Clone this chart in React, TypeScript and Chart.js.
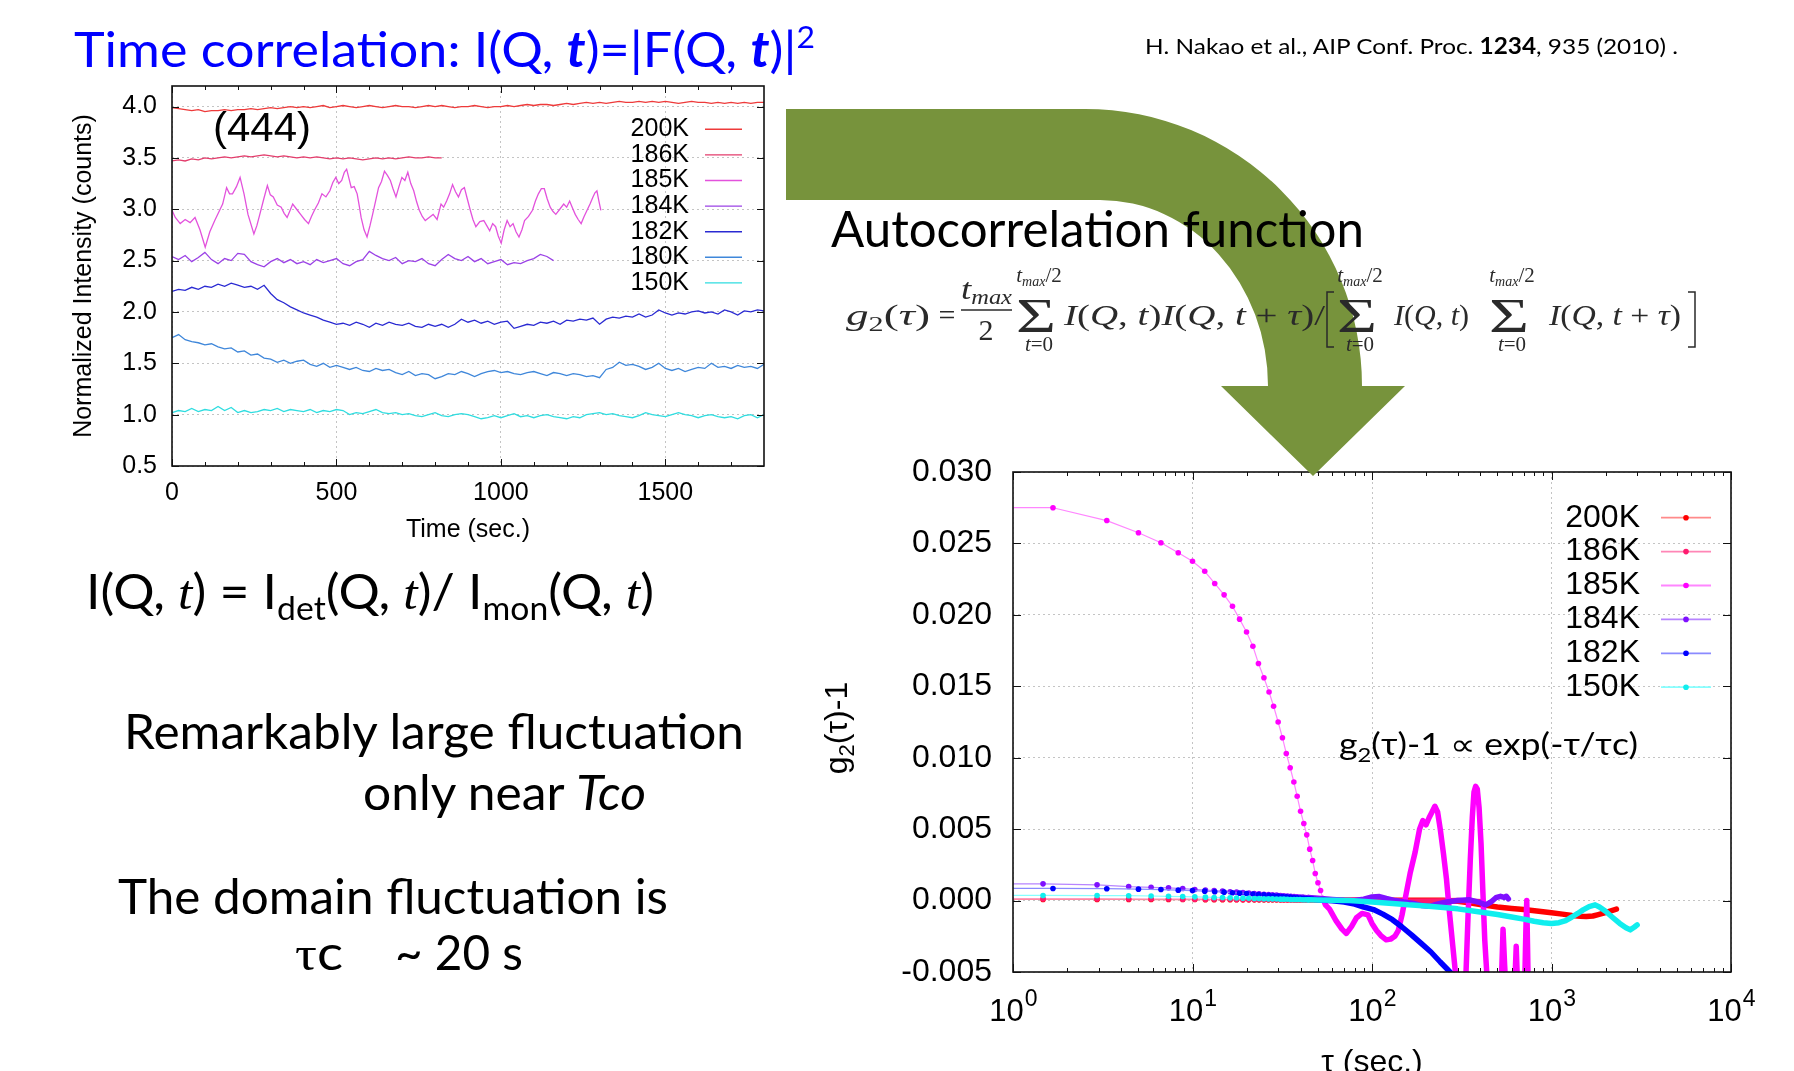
import React, { useEffect, useRef } from 'react';
import { Chart, registerables } from 'chart.js';
Chart.register(...registerables);

const SANS = '"Liberation Sans", Arial, sans-serif';
const SLIDE = 'Lato, "Open Sans", sans-serif';
const SERIF = '"Liberation Serif", "DejaVu Serif", serif';

// ---------------- Left chart: normalized intensity vs time ----------------
const T_STEP = 20; // sampling step of the regular series (s)
const LEFT_LABELS = ['200K', '186K', '185K', '184K', '182K', '180K', '150K'];
const LEFT_COLORS = ['#ee3a3a', '#e33d6c', '#e352dc', '#9b42e6', '#2a2ad2', '#3f87da', '#2fdde0'];
const LEFT_X_TICKS = [0, 500, 1000, 1500];
const LEFT_X_MINOR = [100, 200, 300, 400, 600, 700, 800, 900, 1100, 1200, 1300, 1400, 1600, 1700];
const LEFT_Y_TICKS = [0.5, 1.0, 1.5, 2.0, 2.5, 3.0, 3.5, 4.0];

const I_200K = [
  3.99, 3.98, 3.97, 3.96, 3.97, 3.95, 3.96, 3.96, 3.97, 3.96,
  3.97, 3.97, 3.98, 3.97, 3.98, 3.99, 3.98, 3.99, 4.00, 3.99,
  4.00, 3.99, 4.00, 4.01, 3.99, 4.00, 4.01, 4.00, 3.99, 4.00,
  4.01, 4.00, 3.99, 4.00, 4.01, 4.00, 4.00, 3.99, 4.00, 4.01,
  4.00, 4.01, 4.00, 3.99, 4.00, 4.00, 4.01, 4.00, 3.99, 4.00,
  4.00, 4.01, 4.00, 4.01, 4.02, 4.01, 4.02, 4.02, 4.01, 4.02,
  4.03, 4.02, 4.03, 4.04, 4.03, 4.04, 4.03, 4.04, 4.05, 4.04,
  4.04, 4.05, 4.04, 4.05, 4.04, 4.05, 4.04, 4.03, 4.04, 4.05,
  4.04, 4.04, 4.03, 4.04, 4.03, 4.04, 4.03, 4.04, 4.03, 4.04, 4.04,
];
const I_186K = [
  3.47, 3.48, 3.47, 3.49, 3.48, 3.50, 3.49, 3.50, 3.51, 3.50,
  3.51, 3.52, 3.51, 3.52, 3.53, 3.52, 3.51, 3.52, 3.51, 3.50,
  3.51, 3.50, 3.51, 3.50, 3.49, 3.50, 3.49, 3.50, 3.49, 3.48,
  3.49, 3.50, 3.49, 3.50, 3.49, 3.50, 3.51, 3.50, 3.50, 3.51, 3.50, 3.50,
];
// [time (s), intensity]
const I_185K = [
  [0, 2.99], [10, 2.92], [25, 2.86], [40, 2.90], [55, 2.87], [70, 2.92], [85, 2.80], [101, 2.63], [115, 2.78], [130, 2.89],
  [142, 2.97], [154, 3.05], [166, 3.21], [175, 3.15], [184, 3.15], [196, 3.22], [207, 3.31], [219, 3.15], [231, 2.95], [249, 2.76],
  [258, 2.84], [267, 2.95], [279, 3.10], [290, 3.23], [299, 3.14], [308, 3.12], [320, 3.04], [332, 3.02], [341, 2.96], [350, 2.92],
  [358, 2.98], [367, 3.05], [379, 3.00], [391, 2.95], [403, 2.90], [415, 2.86], [424, 2.93], [433, 2.99], [445, 3.06], [456, 3.15],
  [468, 3.12], [480, 3.18], [489, 3.26], [498, 3.31], [507, 3.25], [516, 3.28], [524, 3.36], [531, 3.39], [538, 3.30], [545, 3.21],
  [554, 3.22], [563, 3.15], [570, 3.02], [575, 2.92], [584, 2.80], [593, 2.73], [602, 2.84], [610, 2.95], [619, 3.08], [628, 3.21],
  [637, 3.27], [646, 3.37], [655, 3.33], [664, 3.28], [672, 3.20], [681, 3.12], [690, 3.22], [699, 3.31], [708, 3.28], [717, 3.36],
  [726, 3.25], [735, 3.18], [744, 3.07], [752, 2.99], [761, 2.93], [770, 2.89], [782, 2.92], [794, 2.95], [806, 2.90], [818, 3.05],
  [826, 3.02], [835, 3.08], [844, 3.15], [853, 3.24], [862, 3.17], [871, 3.12], [880, 3.19], [889, 3.21], [898, 3.10], [907, 2.99],
  [915, 2.90], [924, 2.83], [936, 2.88], [948, 2.89], [957, 2.84], [966, 2.79], [975, 2.86], [984, 2.83], [992, 2.74], [1001, 2.67],
  [1010, 2.80], [1019, 2.89], [1028, 2.83], [1037, 2.86], [1046, 2.78], [1055, 2.73], [1064, 2.80], [1072, 2.89], [1084, 2.93], [1096, 2.99],
  [1105, 3.08], [1114, 3.15], [1123, 3.20], [1132, 3.20], [1141, 3.10], [1150, 3.02], [1158, 2.98], [1167, 2.95], [1179, 3.00], [1191, 3.05],
  [1200, 3.02], [1209, 3.08], [1218, 3.01], [1226, 2.95], [1235, 2.90], [1244, 2.86], [1253, 2.93], [1262, 2.99], [1271, 3.05], [1280, 3.12],
  [1286, 3.16], [1292, 3.18], [1298, 3.08], [1304, 2.99],
];
const I_184K = [
  2.54, 2.51, 2.55, 2.49, 2.53, 2.58, 2.51, 2.47, 2.52, 2.50,
  2.57, 2.56, 2.49, 2.46, 2.44, 2.49, 2.52, 2.48, 2.51, 2.47,
  2.49, 2.46, 2.51, 2.48, 2.50, 2.52, 2.47, 2.45, 2.49, 2.51,
  2.59, 2.55, 2.52, 2.50, 2.53, 2.47, 2.50, 2.49, 2.52, 2.47,
  2.45, 2.51, 2.56, 2.52, 2.50, 2.54, 2.49, 2.52, 2.47, 2.49,
  2.51, 2.46, 2.48, 2.47, 2.50, 2.52, 2.56, 2.54, 2.50,
];
const I_182K = [
  2.20, 2.22, 2.21, 2.24, 2.22, 2.25, 2.24, 2.27, 2.25, 2.28,
  2.26, 2.24, 2.25, 2.22, 2.26, 2.18, 2.12, 2.09, 2.05, 2.02,
  1.99, 1.97, 1.95, 1.92, 1.90, 1.88, 1.89, 1.87, 1.90, 1.88,
  1.85, 1.89, 1.87, 1.90, 1.88, 1.87, 1.89, 1.86, 1.85, 1.88,
  1.86, 1.88, 1.85, 1.88, 1.93, 1.90, 1.92, 1.89, 1.91, 1.88,
  1.90, 1.91, 1.84, 1.86, 1.88, 1.87, 1.90, 1.89, 1.91, 1.88,
  1.92, 1.91, 1.93, 1.92, 1.94, 1.88, 1.93, 1.95, 1.94, 1.96,
  1.95, 1.98, 1.95, 1.97, 2.02, 1.99, 1.97, 1.99, 1.98, 2.00,
  2.01, 1.99, 2.00, 1.98, 2.02, 2.00, 1.97, 2.01, 2.00, 2.02, 2.01,
];
const I_180K = [
  1.75, 1.78, 1.73, 1.71, 1.70, 1.68, 1.69, 1.66, 1.64, 1.65,
  1.61, 1.62, 1.58, 1.59, 1.55, 1.54, 1.51, 1.53, 1.50, 1.52,
  1.53, 1.49, 1.47, 1.50, 1.46, 1.48, 1.46, 1.44, 1.46, 1.43,
  1.42, 1.45, 1.43, 1.44, 1.41, 1.39, 1.42, 1.38, 1.40, 1.39,
  1.35, 1.37, 1.40, 1.39, 1.42, 1.40, 1.37, 1.40, 1.42, 1.43,
  1.41, 1.42, 1.40, 1.39, 1.41, 1.42, 1.40, 1.38, 1.41, 1.40,
  1.38, 1.40, 1.39, 1.37, 1.38, 1.36, 1.44, 1.46, 1.51, 1.48,
  1.49, 1.47, 1.44, 1.46, 1.50, 1.45, 1.43, 1.45, 1.42, 1.44,
  1.46, 1.45, 1.50, 1.46, 1.47, 1.45, 1.48, 1.46, 1.47, 1.45, 1.49,
];
const I_150K = [
  1.02, 1.04, 1.03, 1.06, 1.03, 1.05, 1.04, 1.08, 1.04, 1.07,
  1.02, 1.04, 1.02, 1.03, 1.05, 1.04, 1.06, 1.03, 1.05, 1.04,
  1.03, 1.05, 1.02, 1.04, 1.03, 1.05, 1.04, 1.00, 1.02, 1.01,
  1.03, 1.05, 1.02, 1.01, 1.02, 1.00, 1.01, 0.99, 0.98, 1.00,
  1.02, 0.99, 0.98, 1.00, 1.01, 1.00, 0.98, 0.96, 0.97, 0.99,
  0.97, 0.99, 1.01, 0.98, 0.99, 0.97, 0.99, 1.00, 0.98, 0.97,
  0.96, 0.98, 0.97, 1.00, 1.01, 1.02, 1.00, 1.01, 0.99, 0.98,
  0.97, 0.99, 1.02, 1.00, 0.99, 0.98, 1.00, 1.02, 1.00, 0.99,
  0.97, 0.99, 1.00, 0.98, 0.97, 0.98, 0.96, 0.99, 1.00, 0.97, 1.00,
];

// ---------------- Right chart: g2(tau)-1 vs tau ----------------
const RIGHT_LABELS = ['200K', '186K', '185K', '184K', '182K', '150K'];
const RIGHT_COLORS = ['#ff0000', '#ff1a6e', '#ff00ff', '#7f10ff', '#0000ff', '#10eeee'];
const RIGHT_LINE_COLORS = ['#ff8a8a', '#ff86b6', '#ff86ff', '#b784ff', '#8a8aff', '#86ffff'];
const RIGHT_DENSE_FROM = [45, 45, 54, 45, 54, 45]; // tau beyond which the points merge into a band
const RIGHT_X_TICKS = [1, 10, 100, 1000, 10000];
const RIGHT_X_EXP = ['0', '1', '2', '3', '4'];
const RIGHT_X_MINOR = [2, 3, 4, 5, 6, 7, 8, 9, 20, 30, 40, 50, 60, 70, 80, 90, 200, 300, 400, 500, 600, 700, 800, 900, 2000, 3000, 4000, 5000, 6000, 7000, 8000, 9000];
const RIGHT_Y_TICKS = [-0.005, 0, 0.005, 0.01, 0.015, 0.02, 0.025, 0.03];

// [tau (s), g2-1]
const G_200K = [
  [1, 0.00008], [1.47, 0.00008], [2.94, 0.00008], [4.41, 0.00008], [5.88, 0.00007], [7.35, 0.00007], [8.82, 0.00007], [10.3, 0.00007],
  [11.8, 0.00006], [13.2, 0.00006], [14.7, 0.00006], [16.2, 0.00006], [17.6, 0.00006], [19.1, 0.00005], [20.6, 0.00005], [22.1, 0.00005],
  [23.5, 0.00005], [25.0, 0.00005], [26.5, 0.00005], [27.9, 0.00005], [29.4, 0.00004], [30.9, 0.00004], [32.3, 0.00004], [33.8, 0.00004],
  [35.3, 0.00004], [36.8, 0.00004], [38.2, 0.00004], [39.7, 0.00004], [41.2, 0.00004], [42.6, 0.00004], [44.1, 0.00004],
  [50, 0.00004], [70, 0.00003], [100, 0.00002], [150, 0.00002], [200, 0.00003], [250, 0.00002], [300, -0.00005], [350, -0.00015],
  [400, -0.00028], [450, -0.00037], [500, -0.00045], [600, -0.00055], [700, -0.00063], [850, -0.00075], [1000, -0.00085],
  [1150, -0.00095], [1300, -0.00105], [1450, -0.00110], [1560, -0.00112], [1700, -0.00108], [1800, -0.00100], [1950, -0.00088],
  [2100, -0.00075], [2300, -0.00060],
];
const G_186K = [
  [1, 0.00012], [1.47, 0.00012], [2.94, 0.00012], [4.41, 0.00011], [5.88, 0.00011], [7.35, 0.00011], [8.82, 0.00010], [10.3, 0.00010],
  [11.8, 0.00010], [13.2, 0.00009], [14.7, 0.00009], [16.2, 0.00009], [17.6, 0.00008], [19.1, 0.00008], [20.6, 0.00008], [22.1, 0.00008],
  [23.5, 0.00007], [25.0, 0.00007], [26.5, 0.00007], [27.9, 0.00007], [29.4, 0.00007], [30.9, 0.00006], [32.3, 0.00006], [33.8, 0.00006],
  [35.3, 0.00006], [36.8, 0.00006], [38.2, 0.00006], [39.7, 0.00006], [41.2, 0.00005], [42.6, 0.00005], [44.1, 0.00005],
  [50, 0.00005], [80, 0.00003], [120, 0.0], [170, -0.00005], [230, -0.00003], [300, 0.0], [360, -0.00005], [410, -0.00008],
];
const G_185K = [
  [1, 0.0275], [1.67, 0.0275], [3.33, 0.0266], [5.0, 0.02575], [6.67, 0.02505], [8.33, 0.02435], [10.0, 0.02375], [11.7, 0.02305],
  [13.3, 0.0222], [15.0, 0.0214], [16.7, 0.0206], [18.3, 0.0197], [20.0, 0.0188], [21.7, 0.0178], [23.3, 0.0166], [25.0, 0.0156],
  [26.7, 0.0146], [28.3, 0.0136], [30.0, 0.0125], [31.7, 0.0114], [33.3, 0.0103], [35.0, 0.0093], [36.7, 0.0083], [38.3, 0.0073],
  [40.0, 0.00625], [41.7, 0.0054], [43.3, 0.0046], [45.0, 0.0036], [46.7, 0.0028], [48.3, 0.0019], [50.0, 0.00125], [51.7, 0.0007],
  [53.3, 0.00014],
  [55, -0.0003], [58, -0.0006], [63, -0.0014], [68, -0.0020], [72, -0.0023], [77, -0.0018], [82, -0.0012], [88, -0.0009],
  [95, -0.0010], [100, -0.0016], [106, -0.0021], [112, -0.00245], [120, -0.00275], [127, -0.0027], [134, -0.0025], [140, -0.0021],
  [147, -0.0010], [154, 0.0003], [163, 0.0019], [174, 0.0034], [184, 0.0050], [192, 0.0056], [200, 0.0053], [208, 0.0058],
  [216, 0.0062], [224, 0.0066], [232, 0.0062], [240, 0.0050], [250, 0.0033], [260, 0.0015], [270, -0.0008], [282, -0.0032],
  [294, -0.0055], [308, -0.0075], [322, -0.0075], [333, -0.0055], [343, -0.0010], [353, 0.0029], [362, 0.0058], [370, 0.0076],
  [378, 0.0080], [386, 0.0078], [395, 0.0065], [405, 0.0040], [415, 0.0005], [425, -0.0028], [438, -0.0055], [452, -0.0075],
  [500, -0.0075], [525, -0.0060], [537, -0.0020], [548, -0.0045], [565, -0.0075], [610, -0.0075], [628, -0.0050], [636, -0.0032],
  [645, -0.0055], [665, -0.0075], [705, -0.0075], [720, -0.0020], [728, 0.0000], [735, -0.0030], [745, -0.0075],
];
const G_184K = [
  [1, 0.00117], [1.47, 0.00117], [2.94, 0.00110], [4.41, 0.00098], [5.88, 0.00093], [7.35, 0.00089], [8.82, 0.00084], [10.3, 0.00078],
  [11.8, 0.00074], [13.2, 0.00070], [14.7, 0.00066], [16.2, 0.00062], [17.6, 0.00059], [19.1, 0.00056], [20.6, 0.00053], [22.1, 0.00050],
  [23.5, 0.00047], [25.0, 0.00044], [26.5, 0.00042], [27.9, 0.00040], [29.4, 0.00038], [30.9, 0.00036], [32.3, 0.00034], [33.8, 0.00032],
  [35.3, 0.00030], [36.8, 0.00028], [38.2, 0.00027], [39.7, 0.00025], [41.2, 0.00024], [42.6, 0.00022], [44.1, 0.00021],
  [50, 0.00016], [60, 0.00008], [70, 0.00002], [80, 0.0], [90, 0.00010], [100, 0.00025], [110, 0.00028], [120, 0.00015],
  [135, 0.0], [150, -0.00010], [170, -0.00020], [190, -0.00035], [210, -0.00040], [230, -0.00025], [260, -0.00010], [300, 0.0],
  [350, 0.00005], [400, -0.00015], [430, -0.00030], [460, -0.00010], [490, 0.00020], [520, 0.00030], [545, 0.00022], [560, 0.00030],
  [575, 0.00012],
];
const G_182K = [
  [1, 0.00085], [1.67, 0.00085], [3.33, 0.00083], [5.0, 0.00080], [6.67, 0.00077], [8.33, 0.00073], [10.0, 0.00070], [11.7, 0.00066],
  [13.3, 0.00062], [15.0, 0.00059], [16.7, 0.00055], [18.3, 0.00052], [20.0, 0.00049], [21.7, 0.00046], [23.3, 0.00043], [25.0, 0.00040],
  [26.7, 0.00037], [28.3, 0.00034], [30.0, 0.00031], [31.7, 0.00029], [33.3, 0.00026], [35.0, 0.00024], [36.7, 0.00022], [38.3, 0.00020],
  [40.0, 0.00018], [41.7, 0.00016], [43.3, 0.00014], [45.0, 0.00012], [46.7, 0.00010], [48.3, 0.00008], [50.0, 0.00006], [51.7, 0.00004],
  [53.3, 0.00002],
  [60, -0.00002], [70, -0.00010], [80, -0.00025], [90, -0.00045], [102, -0.00063], [115, -0.00095], [130, -0.00134], [147, -0.00185],
  [166, -0.00240], [188, -0.00300], [213, -0.00360], [240, -0.00430], [272, -0.00500], [290, -0.00540],
];
const G_150K = [
  [1, 0.00036], [1.47, 0.00036], [2.94, 0.00035], [4.41, 0.00034], [5.88, 0.00032], [7.35, 0.00030], [8.82, 0.00028], [10.3, 0.00026],
  [11.8, 0.00024], [13.2, 0.00022], [14.7, 0.00021], [16.2, 0.00019], [17.6, 0.00018], [19.1, 0.00017], [20.6, 0.00016], [22.1, 0.00015],
  [23.5, 0.00014], [25.0, 0.00013], [26.5, 0.00012], [27.9, 0.00012], [29.4, 0.00011], [30.9, 0.00010], [32.3, 0.00010], [33.8, 0.00009],
  [35.3, 0.00008], [36.8, 0.00008], [38.2, 0.00007], [39.7, 0.00007], [41.2, 0.00006], [42.6, 0.00006], [44.1, 0.00005],
  [50, 0.00004], [60, 0.00002], [75, 0.0], [100, -0.00010], [130, -0.00020], [160, -0.00030], [200, -0.00038], [250, -0.00048],
  [300, -0.00058], [400, -0.00080], [500, -0.00098], [600, -0.00115], [700, -0.00130], [800, -0.00145], [900, -0.00155],
  [1000, -0.00160], [1100, -0.00155], [1200, -0.00140], [1300, -0.00115], [1400, -0.00090], [1500, -0.00065], [1620, -0.00042],
  [1750, -0.00030], [1850, -0.00045], [2000, -0.00075], [2200, -0.00120], [2400, -0.00160], [2600, -0.00190], [2750, -0.00205],
  [2900, -0.00185], [3000, -0.00170],
];
const RIGHT_DATA = [G_200K, G_186K, G_185K, G_184K, G_182K, G_150K];

// ---------------- helpers ----------------
function drawTicksAndFrame(chart: any, xMajor: number[], xMinor: number[], yMajor: number[], maj: number, min: number) {
  const { ctx, chartArea: a, scales } = chart;
  const xs = scales.x, ys = scales.y;
  ctx.save();
  ctx.strokeStyle = '#111';
  ctx.lineWidth = 1;
  ctx.beginPath();
  const vx = (v: number, len: number) => {
    const p = Math.round(xs.getPixelForValue(v)) + 0.5;
    ctx.moveTo(p, a.bottom); ctx.lineTo(p, a.bottom - len);
    ctx.moveTo(p, a.top); ctx.lineTo(p, a.top + len);
  };
  xMajor.forEach((v) => vx(v, maj));
  xMinor.forEach((v) => vx(v, min));
  yMajor.forEach((v) => {
    const p = Math.round(ys.getPixelForValue(v)) + 0.5;
    ctx.moveTo(a.left, p); ctx.lineTo(a.left + maj, p);
    ctx.moveTo(a.right, p); ctx.lineTo(a.right - maj, p);
  });
  ctx.stroke();
  ctx.lineWidth = 1.6;
  ctx.strokeRect(a.left, a.top, a.right - a.left, a.bottom - a.top);
  ctx.restore();
}

function fixY(width: number) {
  return (s: any) => {
    s.width = width;
    s.paddingTop = 0;
    s.paddingBottom = 0;
  };
}

function LeftChart() {
  const ref = useRef<HTMLCanvasElement>(null);
  useEffect(() => {
    const regular = [I_200K, I_186K, null, I_184K, I_182K, I_180K, I_150K];
    const datasets = LEFT_LABELS.map((lab, i) => {
      const series = regular[i];
      const data = series
        ? series.map((v, k) => ({ x: k * T_STEP, y: v }))
        : I_185K.map(([t, v]) => ({ x: t, y: v }));
      return {
        label: lab,
        data,
        borderColor: LEFT_COLORS[i],
        borderWidth: 1.3,
        pointRadius: 0,
        tension: 0,
        clip: 0,
      };
    });
    const plugin = {
      id: 'leftDecor',
      afterDraw(chart: any) {
        const { ctx, chartArea: a } = chart;
        drawTicksAndFrame(chart, LEFT_X_TICKS, LEFT_X_MINOR, LEFT_Y_TICKS, 7, 4);
        ctx.save();
        ctx.font = `25px ${SANS}`;
        ctx.textBaseline = 'middle';
        LEFT_LABELS.forEach((lab, i) => {
          const y = a.top + 43.3 + i * 25.6;
          ctx.fillStyle = '#000';
          ctx.textAlign = 'right';
          ctx.fillText(lab, a.right - 75, y);
          ctx.strokeStyle = LEFT_COLORS[i];
          ctx.lineWidth = 1.4;
          ctx.beginPath();
          ctx.moveTo(a.right - 59, y); ctx.lineTo(a.right - 22, y);
          ctx.stroke();
        });
        ctx.fillStyle = '#000';
        ctx.textAlign = 'center';
        ctx.fillText('Time (sec.)', (a.left + a.right) / 2, a.bottom + 64);
        ctx.translate(44, (a.top + a.bottom) / 2);
        ctx.rotate(-Math.PI / 2);
        ctx.fillText('Normalized Intensity (counts)', 0, 0);
        ctx.restore();
      },
    };
    const chart = new Chart(ref.current!, {
      type: 'line',
      data: { datasets: datasets as any },
      options: {
        animation: false,
        responsive: false,
        events: [],
        layout: { padding: { left: 0, top: 16, right: 36, bottom: 0 } },
        plugins: { legend: { display: false }, tooltip: { enabled: false } },
        scales: {
          x: {
            type: 'linear', min: 0, max: 1800,
            afterBuildTicks: (s: any) => { s.ticks = LEFT_X_TICKS.map((v) => ({ value: v })); },
            afterFit: (s: any) => { s.height = 94; },
            ticks: { font: { family: SANS, size: 25 }, color: '#000', padding: 12, maxRotation: 0, autoSkip: false, callback: (v: any) => String(v) },
            grid: { color: '#c4c4c4', drawTicks: false, lineWidth: 1 },
            border: { display: false, dash: [2, 3] },
          },
          y: {
            type: 'linear', min: 0.5, max: 4.2,
            afterBuildTicks: (s: any) => { s.ticks = LEFT_Y_TICKS.map((v) => ({ value: v })); },
            afterFit: fixY(132),
            ticks: { font: { family: SANS, size: 25 }, color: '#000', padding: 15, callback: (v: any) => Number(v).toFixed(1) },
            grid: { color: '#c4c4c4', drawTicks: false, lineWidth: 1 },
            border: { display: false, dash: [2, 3] },
          },
        },
      } as any,
      plugins: [plugin],
    });
    return () => chart.destroy();
  }, []);
  return <canvas ref={ref} width={760} height={490} style={{ position: 'absolute', left: 40, top: 70 }} />;
}

function RightChart() {
  const ref = useRef<HTMLCanvasElement>(null);
  useEffect(() => {
    const datasets = RIGHT_DATA.map((pts, i) => ({
      label: RIGHT_LABELS[i],
      data: pts.map(([x, y]) => ({ x, y })),
      order: RIGHT_DATA.length - i,
      borderColor: RIGHT_LINE_COLORS[i],
      borderWidth: 1.2,
      borderCapStyle: 'round',
      borderJoinStyle: 'round',
      pointRadius: (c: any) => (c.dataIndex === 0 || (c.raw && c.raw.x >= RIGHT_DENSE_FROM[i]) ? 0 : 2.8),
      pointBackgroundColor: RIGHT_COLORS[i],
      pointBorderWidth: 0,
      tension: 0,
      clip: 0,
      segment: {
        borderWidth: (c: any) => (c.p1.parsed.x >= RIGHT_DENSE_FROM[i] ? 5.5 : 1.2),
        borderColor: (c: any) => (c.p1.parsed.x >= RIGHT_DENSE_FROM[i] ? RIGHT_COLORS[i] : RIGHT_LINE_COLORS[i]),
      },
    }));
    const plugin = {
      id: 'rightDecor',
      afterDraw(chart: any) {
        const { ctx, chartArea: a, scales } = chart;
        drawTicksAndFrame(chart, RIGHT_X_TICKS, RIGHT_X_MINOR, RIGHT_Y_TICKS, 8, 4);
        ctx.save();
        // x tick labels 10^n
        ctx.fillStyle = '#000';
        ctx.textBaseline = 'alphabetic';
        ctx.textAlign = 'left';
        RIGHT_X_TICKS.forEach((v, i) => {
          const px = scales.x.getPixelForValue(v);
          ctx.font = `31px ${SANS}`;
          const w1 = ctx.measureText('10').width;
          ctx.font = `23px ${SANS}`;
          const w2 = ctx.measureText(RIGHT_X_EXP[i]).width;
          const x0 = px - (w1 + w2) / 2;
          ctx.font = `31px ${SANS}`;
          ctx.fillText('10', x0, a.bottom + 49);
          ctx.font = `23px ${SANS}`;
          ctx.fillText(RIGHT_X_EXP[i], x0 + w1 + 1, a.bottom + 34);
        });
        // legend
        ctx.textBaseline = 'middle';
        RIGHT_LABELS.forEach((lab, i) => {
          const y = a.top + 45.7 + i * 33.9;
          ctx.font = `32px ${SANS}`;
          ctx.textAlign = 'right';
          ctx.fillStyle = '#000';
          ctx.fillText(lab, a.right - 91, y);
          ctx.strokeStyle = RIGHT_LINE_COLORS[i];
          ctx.lineWidth = 1.8;
          ctx.beginPath();
          ctx.moveTo(a.right - 70, y); ctx.lineTo(a.right - 20, y);
          ctx.stroke();
          ctx.fillStyle = RIGHT_COLORS[i];
          ctx.beginPath();
          ctx.arc(a.right - 45, y, 2.8, 0, Math.PI * 2);
          ctx.fill();
        });
        // axis titles
        ctx.fillStyle = '#000';
        ctx.textAlign = 'center';
        ctx.textBaseline = 'alphabetic';
        ctx.font = `32px ${SANS}`;
        ctx.fillText('\u03c4 (sec.)', (a.left + a.right) / 2, a.bottom + 100);
        ctx.translate(57, (a.top + a.bottom) / 2 + 6);
        ctx.rotate(-Math.PI / 2);
        const runs = [
          { t: 'g', s: 32, dy: 0 },
          { t: '2', s: 22, dy: 7 },
          { t: '(\u03c4)-1', s: 32, dy: 0 },
        ];
        let total = 0;
        runs.forEach((r) => { ctx.font = `${r.s}px ${SANS}`; total += ctx.measureText(r.t).width; });
        let cx = -total / 2;
        ctx.textAlign = 'left';
        runs.forEach((r) => {
          ctx.font = `${r.s}px ${SANS}`;
          ctx.fillText(r.t, cx, r.dy);
          cx += ctx.measureText(r.t).width;
        });
        ctx.restore();
      },
    };
    const chart = new Chart(ref.current!, {
      type: 'line',
      data: { datasets: datasets as any },
      options: {
        animation: false,
        responsive: false,
        events: [],
        layout: { padding: { left: 0, top: 32, right: 63, bottom: 0 } },
        plugins: { legend: { display: false }, tooltip: { enabled: false } },
        scales: {
          x: {
            type: 'logarithmic', min: 1, max: 10000,
            afterBuildTicks: (s: any) => { s.ticks = RIGHT_X_TICKS.map((v) => ({ value: v, major: true })); },
            afterFit: (s: any) => { s.height = 99; s.paddingLeft = 0; s.paddingRight = 0; },
            ticks: { display: false },
            grid: { color: '#c4c4c4', drawTicks: false, lineWidth: 1 },
            border: { display: false, dash: [2, 3] },
          },
          y: {
            type: 'linear', min: -0.005, max: 0.03,
            afterBuildTicks: (s: any) => { s.ticks = RIGHT_Y_TICKS.map((v) => ({ value: v })); },
            afterFit: fixY(223),
            ticks: { font: { family: SANS, size: 32 }, color: '#000', padding: 21, callback: (v: any) => Number(v).toFixed(3) },
            grid: { color: '#c4c4c4', drawTicks: false, lineWidth: 1 },
            border: { display: false, dash: [2, 3] },
          },
        },
      } as any,
      plugins: [plugin],
    });
    return () => chart.destroy();
  }, []);
  return <canvas ref={ref} width={1004} height={631} style={{ position: 'absolute', left: 790, top: 440 }} />;
}

function Overlay() {
  const it = { fontStyle: 'italic' as const };
  return (
    <svg width={1794} height={1071} style={{ position: 'absolute', left: 0, top: 0 }}>
      <path
        d="M786,109 L1085,109 A277,277 0 0 1 1362,386 L1405,386 L1313,476 L1221,386 L1268,386 A168,186 0 0 0 1100,200 L786,200 Z"
        fill="#77933c"
      />
      {/* title */}
      <text x={74} y={67} fontFamily={SLIDE} fontSize={49} fill="#0000ff" textLength={741} lengthAdjust="spacingAndGlyphs">
        {'Time correlation: I(Q, '}<tspan fontStyle="italic" fontWeight="bold">t</tspan>{')=|F(Q, '}<tspan fontStyle="italic" fontWeight="bold">t</tspan>{')|'}<tspan dy={-19} fontSize={30}>2</tspan>
      </text>
      <text x={1145} y={54} fontFamily={SLIDE} fontSize={22} fill="#000" textLength={533} lengthAdjust="spacingAndGlyphs">
        {'H. Nakao et al., AIP Conf. Proc. '}<tspan fontWeight="bold">1234</tspan>{', 935 (2010) .'}
      </text>
      <text x={213} y={141} fontFamily={SANS} fontSize={40} fill="#000" textLength={98} lengthAdjust="spacingAndGlyphs">(444)</text>
      {/* left texts */}
      <text x={86} y={609} fontFamily={SLIDE} fontSize={49} fill="#000" textLength={568} lengthAdjust="spacingAndGlyphs">
        {'I(Q, '}<tspan fontFamily={SERIF} fontStyle="italic">t</tspan>{') = I'}<tspan dy={11} fontSize={32}>det</tspan><tspan dy={-11}>{'(Q, '}</tspan><tspan fontFamily={SERIF} fontStyle="italic">t</tspan>{')/ I'}<tspan dy={11} fontSize={32}>mon</tspan><tspan dy={-11}>{'(Q, '}</tspan><tspan fontFamily={SERIF} fontStyle="italic">t</tspan>{')'}
      </text>
      <text x={124} y={749} fontFamily={SLIDE} fontSize={49} fill="#000" textLength={620} lengthAdjust="spacingAndGlyphs">Remarkably large fluctuation</text>
      <text x={363} y={810} fontFamily={SLIDE} fontSize={49} fill="#000" textLength={283} lengthAdjust="spacingAndGlyphs">
        {'only near '}<tspan fontStyle="italic">Tco</tspan>
      </text>
      <text x={118} y={914} fontFamily={SLIDE} fontSize={49} fill="#000" textLength={550} lengthAdjust="spacingAndGlyphs">The domain fluctuation is</text>
      <text x={295} y={970} fontSize={49} fill="#000" textLength={48} lengthAdjust="spacingAndGlyphs">
        <tspan fontFamily={SERIF}>{'\u03c4'}</tspan><tspan fontFamily={SLIDE}>c</tspan>
      </text>
      <text x={395} y={970} fontFamily={SLIDE} fontSize={49} fill="#000" textLength={128} lengthAdjust="spacingAndGlyphs">~ 20 s</text>
      {/* autocorrelation */}
      <text x={831} y={247} fontFamily={SLIDE} fontSize={50} fill="#000" textLength={533} lengthAdjust="spacingAndGlyphs">Autocorrelation function</text>
      <g fontFamily={SERIF} fill="#2a2a2a">
        <text x={846} y={325} fontSize={30} textLength={84} lengthAdjust="spacingAndGlyphs">
          <tspan {...it}>g</tspan><tspan dy={6} fontSize={20}>2</tspan><tspan dy={-6}>(</tspan><tspan {...it}>{'\u03c4'}</tspan>)
        </text>
        <text x={947} y={325} fontSize={30} textAnchor="middle">=</text>
        <text x={961} y={299} fontSize={30} textLength={51} lengthAdjust="spacingAndGlyphs">
          <tspan {...it}>t</tspan><tspan dy={5} fontSize={20} {...it}>max</tspan>
        </text>
        <line x1={961} y1={310} x2={1012} y2={310} stroke="#2a2a2a" strokeWidth={1.3} />
        <text x={986} y={340} fontSize={30} textAnchor="middle">2</text>
        {[1036, 1357, 1509].map((cx, k) => (
          <g key={k}>
            <text x={cx} y={332} fontSize={48} textAnchor="middle" textLength={40} lengthAdjust="spacingAndGlyphs">{'\u03a3'}</text>
            <text x={cx + 3} y={282} fontSize={21} textAnchor="middle">
              <tspan {...it}>t</tspan><tspan dy={4} fontSize={14} {...it}>max</tspan><tspan dy={-4}>/2</tspan>
            </text>
            <text x={cx + 3} y={351} fontSize={21} textAnchor="middle">
              <tspan {...it}>t</tspan>=0
            </text>
          </g>
        ))}
        <text x={1064} y={325} fontSize={30} textLength={261} lengthAdjust="spacingAndGlyphs">
          <tspan {...it}>I</tspan>(<tspan {...it}>Q</tspan>, <tspan {...it}>t</tspan>)<tspan {...it}>I</tspan>(<tspan {...it}>Q</tspan>, <tspan {...it}>t</tspan> + <tspan {...it}>{'\u03c4'}</tspan>)/
        </text>
        <path d="M1334,292 L1327,292 L1327,347 L1334,347" fill="none" stroke="#2a2a2a" strokeWidth={1.5} />
        <text x={1394} y={325} fontSize={30} textLength={75} lengthAdjust="spacingAndGlyphs">
          <tspan {...it}>I</tspan>(<tspan {...it}>Q</tspan>, <tspan {...it}>t</tspan>)
        </text>
        <text x={1549} y={325} fontSize={30} textLength={132} lengthAdjust="spacingAndGlyphs">
          <tspan {...it}>I</tspan>(<tspan {...it}>Q</tspan>, <tspan {...it}>t</tspan> + <tspan {...it}>{'\u03c4'}</tspan>)
        </text>
        <path d="M1688,292 L1695,292 L1695,347 L1688,347" fill="none" stroke="#2a2a2a" strokeWidth={1.5} />
      </g>
      {/* annotation inside right plot */}
      <text x={1339} y={755} fontFamily={SLIDE} fontSize={30} fill="#000" textLength={299} lengthAdjust="spacingAndGlyphs">
        g<tspan dy={7} fontSize={20}>2</tspan><tspan dy={-7}>{'(\u03c4)-1 \u221d exp(-\u03c4/\u03c4c)'}</tspan>
      </text>
    </svg>
  );
}

export default function App() {
  return (
    <div style={{ position: 'fixed', left: 0, top: 0, width: 1794, height: 1071, background: '#fff', overflow: 'hidden' }}>
      <LeftChart />
      <RightChart />
      <Overlay />
    </div>
  );
}
